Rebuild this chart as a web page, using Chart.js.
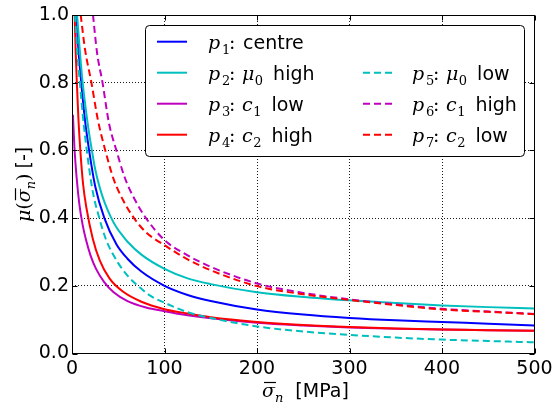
<!DOCTYPE html>
<html><head><meta charset="utf-8">
<script src="https://cdn.jsdelivr.net/npm/chart.js@4/dist/chart.umd.min.js"></script>
<style>html,body{margin:0;padding:0;background:#fff;overflow:hidden}</style>
</head><body>
<canvas id="c" width="557" height="408"></canvas>
<script>
// ---- data ----
const xTicks = [0, 100, 200, 300, 400, 500];
const yTicks = [0.0, 0.2, 0.4, 0.6, 0.8, 1.0];

const paramSym  = [null, 'μ', 'c', 'c', 'μ', 'c', 'c'];
const paramSub  = [null, '0', '1', '2', '0', '1', '2'];
const paramWord = ['centre', 'high', 'low', 'high', 'low', 'high', 'low'];
const colors = ['#0000ff', '#00bfbf', '#bf00bf', '#ff0000', '#00bfbf', '#bf00bf', '#ff0000'];
const dashed = [false, false, false, false, true, true, true];

const p1Sigma = [4.5, 7, 10, 14, 18.5, 25, 35, 48, 60, 75, 100, 125, 150, 200, 250, 300, 350, 400, 450, 500];
const p1Mu    = [1.0, 0.895, 0.8, 0.69, 0.6, 0.495, 0.4, 0.323, 0.28, 0.242, 0.2, 0.173, 0.155, 0.13, 0.115, 0.105, 0.098, 0.093, 0.088, 0.083];

const p2Sigma = [5.5, 8, 11.5, 15, 18.5, 21.5, 25, 30, 35, 42, 48, 55, 60, 75, 100, 125, 150, 200, 250, 300, 350, 400, 450, 500];
const p2Mu    = [1.0, 0.91, 0.8, 0.72, 0.65, 0.6, 0.545, 0.49, 0.448, 0.403, 0.373, 0.347, 0.33, 0.292, 0.25, 0.222, 0.205, 0.181, 0.167, 0.157, 0.149, 0.142, 0.137, 0.133];

const p3Sigma = [1, 2.6, 5, 8, 11.5, 15.2, 20, 26, 35, 45, 60, 80, 100, 125, 150, 200, 250, 300, 350, 400, 450, 500];
const p3Mu    = [0.705, 0.61, 0.52, 0.44, 0.38, 0.335, 0.29, 0.25, 0.21, 0.181, 0.155, 0.136, 0.125, 0.113, 0.104, 0.091, 0.083, 0.077, 0.073, 0.071, 0.069, 0.067];

const p4Sigma = [2.9, 4, 5.4, 7, 9, 12, 15.6, 22.4, 30, 40.5, 55, 75, 100, 125, 150, 200, 250, 300, 350, 400, 450, 500];
const p4Mu    = [1.0, 0.89, 0.79, 0.69, 0.6, 0.5, 0.43, 0.34, 0.275, 0.222, 0.183, 0.153, 0.131, 0.118, 0.107, 0.093, 0.084, 0.078, 0.074, 0.071, 0.069, 0.067];

const p5Sigma = [3.3, 6, 8.5, 12, 16, 22, 29.5, 37, 50, 60, 70, 85, 100, 125, 150, 200, 250, 300, 350, 400, 450, 500];
const p5Mu    = [1.0, 0.88, 0.8, 0.695, 0.6, 0.485, 0.4, 0.335, 0.267, 0.23, 0.203, 0.17, 0.15, 0.122, 0.105, 0.08, 0.065, 0.055, 0.047, 0.041, 0.037, 0.033];

const p6Sigma = [22.7, 27, 33, 40, 48, 57, 68, 80, 100, 125, 150, 200, 250, 300, 350, 400, 450, 500];
const p6Mu    = [1.0, 0.89, 0.8, 0.68, 0.6, 0.52, 0.454, 0.4, 0.335, 0.29, 0.256, 0.207, 0.179, 0.16, 0.145, 0.132, 0.124, 0.117];

const p7Sigma = [9.4, 14, 21, 28, 36, 45, 55, 67, 80, 100, 125, 150, 200, 250, 300, 350, 400, 450, 500];
const p7Mu    = [1.0, 0.9, 0.8, 0.69, 0.6, 0.515, 0.454, 0.4, 0.358, 0.32, 0.278, 0.246, 0.199, 0.175, 0.158, 0.143, 0.130, 0.123, 0.116];

const sigmas = [p1Sigma, p2Sigma, p3Sigma, p4Sigma, p5Sigma, p6Sigma, p7Sigma];
const mus    = [p1Mu, p2Mu, p3Mu, p4Mu, p5Mu, p6Mu, p7Mu];

// ---- build datasets ----
const datasets = sigmas.map((sx, i) => ({
  label: 'p' + (i + 1),
  data: sx.map((s, k) => ({ x: s, y: mus[i][k] })),
  borderColor: colors[i],
  backgroundColor: colors[i],
  borderWidth: 2,
  borderDash: dashed[i] ? [7, 4] : [],
  pointRadius: 0,
  fill: false,
  cubicInterpolationMode: 'monotone',
  order: 6 - i
}));

const SERIF = '"DejaVu Serif"';
const SANS = '"DejaVu Sans"';

function drawMathLabel(ctx, x, base, i) {
  ctx.fillStyle = '#000';
  ctx.textAlign = 'left';
  ctx.textBaseline = 'alphabetic';
  ctx.font = 'italic 19px ' + SERIF;
  ctx.fillText('p', x, base);
  ctx.font = '13px ' + SERIF;
  ctx.fillText(String(i + 1), x + 14, base + 5);
  ctx.font = '19px ' + SERIF;
  ctx.fillText(':', x + 21, base);
  ctx.font = '19px ' + SANS;
  if (!paramSym[i]) {
    ctx.fillText(paramWord[i], x + 35, base);
    return;
  }
  const symX = x + 34;
  ctx.font = 'italic 19px ' + SERIF;
  ctx.fillText(paramSym[i], symX, base);
  const subX = symX + ctx.measureText(paramSym[i]).width + 0.5;
  ctx.font = '13px ' + SERIF;
  ctx.fillText(paramSub[i], subX, base + 5);
  const end = subX + ctx.measureText(paramSub[i]).width;
  ctx.font = '19px ' + SANS;
  ctx.fillText(paramWord[i], end + 10, base);
}

function drawSigmaBar(ctx, x, base) {
  ctx.font = 'italic 19px ' + SERIF;
  ctx.fillText('σ', x, base);
  const w = ctx.measureText('σ').width;
  ctx.save();
  ctx.strokeStyle = '#000';
  ctx.lineWidth = 1.2;
  ctx.beginPath();
  ctx.moveTo(x + 2, base - 14.5);
  ctx.lineTo(x + w + 1, base - 14.5);
  ctx.stroke();
  ctx.restore();
  ctx.font = 'italic 13px ' + SERIF;
  ctx.fillText('n', x + w, base + 5);
  return x + w + ctx.measureText('n').width;
}

const decorPlugin = {
  id: 'decor',
  afterDatasetsDraw(chart) {
    const ctx = chart.ctx;
    const a = chart.chartArea;
    const xs = chart.scales.x, ys = chart.scales.y;
    ctx.save();
    ctx.strokeStyle = '#000';
    ctx.lineWidth = 1;
    ctx.setLineDash([]);
    const L = Math.round(a.left) + 0.5, R = Math.round(a.right) - 0.5;
    const T = Math.round(a.top) + 0.5, B = Math.round(a.bottom) - 0.5;
    ctx.strokeRect(L, T, R - L, B - T);
    ctx.beginPath();
    xTicks.forEach(v => {
      const px = Math.round(xs.getPixelForValue(v)) + 0.5;
      ctx.moveTo(px, B); ctx.lineTo(px, B - 5);
      ctx.moveTo(px, T); ctx.lineTo(px, T + 5);
    });
    yTicks.forEach(v => {
      const py = Math.round(ys.getPixelForValue(v)) + 0.5;
      ctx.moveTo(L, py); ctx.lineTo(L + 5, py);
      ctx.moveTo(R, py); ctx.lineTo(R - 5, py);
    });
    ctx.stroke();

    // legend
    const bx = 145.5, by = 25.5, bw = 379, bh = 131, r = 4;
    ctx.beginPath();
    ctx.moveTo(bx + r, by);
    ctx.arcTo(bx + bw, by, bx + bw, by + bh, r);
    ctx.arcTo(bx + bw, by + bh, bx, by + bh, r);
    ctx.arcTo(bx, by + bh, bx, by, r);
    ctx.arcTo(bx, by, bx + bw, by, r);
    ctx.closePath();
    ctx.fillStyle = '#fff';
    ctx.fill();
    ctx.strokeStyle = '#000';
    ctx.stroke();

    chart.data.datasets.forEach((ds, i) => {
      const col = i < 4 ? 0 : 1;
      const row = i < 4 ? i : i - 3;
      const lx = col === 0 ? 157 : 363;
      const tx = col === 0 ? 208 : 412;
      const ly = 41.7 + 31 * row;
      ctx.save();
      ctx.strokeStyle = ds.borderColor;
      ctx.lineWidth = ds.borderWidth;
      ctx.setLineDash(ds.borderDash);
      ctx.beginPath();
      ctx.moveTo(lx, ly);
      ctx.lineTo(lx + 30, ly);
      ctx.stroke();
      ctx.restore();
      drawMathLabel(ctx, tx, ly + 7, i);
    });

    // x axis label
    ctx.fillStyle = '#000';
    ctx.textAlign = 'left';
    ctx.textBaseline = 'alphabetic';
    const xEnd = drawSigmaBar(ctx, 262, 397);
    ctx.font = '19px ' + SANS;
    ctx.fillText('[MPa]', xEnd + 12, 397);

    // y axis label
    ctx.save();
    ctx.translate(30, 185);
    ctx.rotate(-Math.PI / 2);
    let cx = -37;
    ctx.font = 'italic 19px ' + SERIF;
    ctx.fillText('μ', cx, 0); cx += ctx.measureText('μ').width;
    ctx.font = '19px ' + SERIF;
    ctx.fillText('(', cx, 0); cx += ctx.measureText('(').width;
    cx = drawSigmaBar(ctx, cx, 0);
    ctx.font = '19px ' + SERIF;
    ctx.fillText(')', cx, 0); cx += ctx.measureText(')').width;
    ctx.font = '19px ' + SANS;
    ctx.fillText('[-]', cx + 5, 0);
    ctx.restore();
    ctx.restore();
  }
};

new Chart(document.getElementById('c'), {
  type: 'line',
  data: { datasets },
  options: {
    responsive: false,
    devicePixelRatio: 1,
    animation: false,
    layout: { padding: { left: 0, top: 15, right: 22.5, bottom: 0 } },
    plugins: { legend: { display: false }, tooltip: { enabled: false } },
    scales: {
      x: {
        type: 'linear', min: 0, max: 500,
        afterBuildTicks: s => { s.ticks = xTicks.map(v => ({ value: v })); },
        afterFit: s => { s.height = 54.5; },
        grid: { color: 'rgba(0,0,0,0.9)', lineWidth: 1, drawTicks: false },
        border: { display: false, dash: [1, 2] },
        ticks: { color: '#000', font: { family: 'DejaVu Sans', size: 19 }, padding: 4, maxRotation: 0 }
      },
      y: {
        type: 'linear', min: 0, max: 1,
        afterBuildTicks: s => { s.ticks = yTicks.map(v => ({ value: v })); },
        afterFit: s => { s.width = 72; },
        grid: { color: 'rgba(0,0,0,0.9)', lineWidth: 1, drawTicks: false },
        border: { display: false, dash: [1, 2] },
        ticks: { color: '#000', font: { family: 'DejaVu Sans', size: 19 }, padding: 3,
                 callback: v => Number(v).toFixed(1) }
      }
    }
  },
  plugins: [decorPlugin]
});
</script>
</body></html>
